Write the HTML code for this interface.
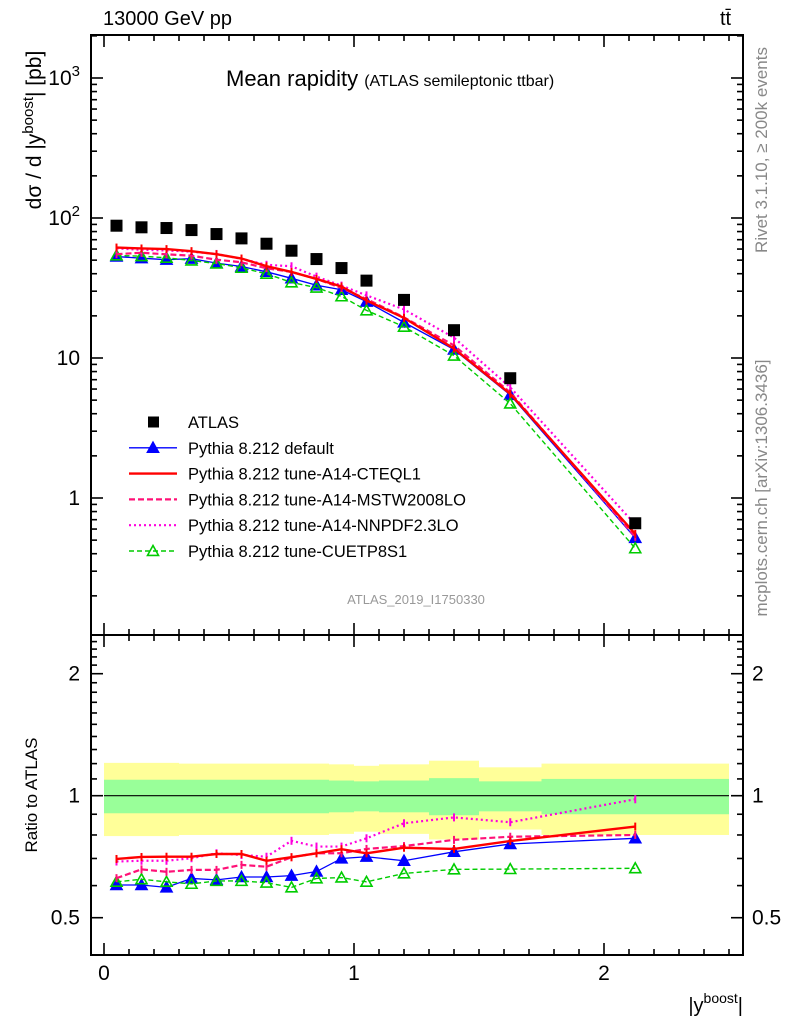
<!DOCTYPE html>
<html><head><meta charset="utf-8"><style>
body{margin:0;background:#fff}
svg{display:block;font-family:"Liberation Sans",sans-serif}
</style></head><body>
<svg id="c" width="786" height="1024" viewBox="0 0 786 1024">
<g id="bands"></g>
<g id="ratioLines"></g>
<g id="mainLines"></g>
<g id="axes"></g>
<text x="103" y="25" font-size="20">13000 GeV pp</text>
<text x="720" y="25" font-size="20">tt̄</text>
<text x="226" y="86" font-size="22">Mean rapidity <tspan font-size="16">(ATLAS semileptonic ttbar)</tspan></text>
<text x="416" y="604" font-size="13" fill="#999" text-anchor="middle">ATLAS_2019_I1750330</text>
<text transform="translate(767,150) rotate(-90)" font-size="17" fill="#888" text-anchor="middle">Rivet 3.1.10, ≥ 200k events</text>
<text transform="translate(767,488) rotate(-90)" font-size="17" fill="#888" text-anchor="middle">mcplots.cern.ch [arXiv:1306.3436]</text>
<text transform="translate(41,130) rotate(-90)" font-size="21" text-anchor="middle">dσ / d |y<tspan font-size="15" dy="-8">boost</tspan><tspan dy="8">| [pb]</tspan></text>
<text transform="translate(37,795) rotate(-90)" font-size="17" text-anchor="middle">Ratio to ATLAS</text>
<text x="743" y="1012" font-size="20" text-anchor="end">|y<tspan font-size="14" dy="-9">boost</tspan><tspan dy="9">|</tspan></text>
<g id="legend"></g>
</svg>
<script>
const binEdges=[0,0.1,0.2,0.3,0.4,0.5,0.6,0.7,0.8,0.9,1.0,1.1,1.3,1.5,1.75,2.5];
const xCenters=[0.05,0.15,0.25,0.35,0.45,0.55,0.65,0.75,0.85,0.95,1.05,1.2,1.4,1.625,2.125];
const atlasVals=[88.1,85.8,84.8,82.0,76.8,71.5,65.5,58.4,50.9,43.9,35.7,26.0,15.8,7.17,0.66];
const statErr=[0.095,0.095,0.095,0.095,0.095,0.095,0.095,0.095,0.095,0.09,0.085,0.09,0.105,0.085,0.1];
const totErr=[0.205,0.205,0.205,0.2,0.2,0.2,0.2,0.2,0.2,0.195,0.185,0.195,0.22,0.175,0.2];
const rDefault=[0.602,0.602,0.594,0.625,0.620,0.630,0.630,0.635,0.650,0.700,0.707,0.691,0.727,0.760,0.785];
const rCTEQ=[0.698,0.706,0.707,0.707,0.718,0.718,0.691,0.705,0.721,0.738,0.721,0.744,0.739,0.773,0.839];
const rMSTW=[0.626,0.658,0.649,0.656,0.656,0.675,0.668,0.705,0.721,0.721,0.739,0.751,0.778,0.792,0.800];
const rNNPDF=[0.688,0.691,0.691,0.701,0.721,0.714,0.707,0.774,0.749,0.749,0.785,0.855,0.884,0.860,0.980];
const rCUETP=[0.613,0.622,0.613,0.606,0.616,0.616,0.610,0.594,0.625,0.628,0.613,0.643,0.658,0.659,0.662];

const NS='http://www.w3.org/2000/svg';
const L=91,R=743,T=35,M=635,B=955;
const X=v=>104+250*v;
const Y=v=>218-140*(Math.log10(v)-2);
const YR=v=>795.7-122*Math.log2(v);
function el(tag,attrs,parent){const e=document.createElementNS(NS,tag);for(const k in attrs)e.setAttribute(k,attrs[k]);parent.appendChild(e);return e;}

const bands=document.getElementById('bands');
for(let i=0;i<xCenters.length;i++){
  const x0=X(binEdges[i]),x1=X(binEdges[i+1]);
  const y=el('rect',{x:x0,y:YR(1+totErr[i]),width:x1-x0,height:YR(1-totErr[i])-YR(1+totErr[i]),fill:'#ffff99'},bands);
  
  
  const g=el('rect',{x:x0,y:YR(1+statErr[i]),width:x1-x0,height:YR(1-statErr[i])-YR(1+statErr[i]),fill:'#99ff99'},bands);
  
  
}
const one=el('line',{x1:X(binEdges[0]),x2:X(binEdges[binEdges.length-1]),y1:YR(1),y2:YR(1),stroke:'#000','stroke-width':1.2},bands);



function tri(parent,x,y,color,filled,s){
  const p=el('polygon',{points:`${x},${y-s} ${x-s},${y+s*0.8} ${x+s},${y+s*0.8}`,fill:filled?color:'#fff','fill-opacity':filled?1:0,stroke:color,'stroke-width':1.6},parent);
  return p;
}
const series=[
 {name:'default',r:rDefault,color:'#0000ff',w:1.3,dash:'',marker:'filled'},
 {name:'cuetp8s1',r:rCUETP,color:'#00cc00',w:1.4,dash:'5,3',marker:'open'},
 {name:'mstw2008lo',r:rMSTW,color:'#ff1177',w:2.2,dash:'6,3',marker:'bar'},
 {name:'nnpdf23lo',r:rNNPDF,color:'#ff00dd',w:2.2,dash:'2,3',marker:'bar'},
 {name:'cteql1',r:rCTEQ,color:'#ff0000',w:2.4,dash:'',marker:'bar'}
];
const mainG=document.getElementById('mainLines');
const ratioG=document.getElementById('ratioLines');
series.forEach(s=>{
  const ptsM=xCenters.map((x,i)=>X(x)+','+Y(atlasVals[i]*s.r[i])).join(' ');
  const ptsR=xCenters.map((x,i)=>X(x)+','+YR(s.r[i])).join(' ');
  const pm=el('polyline',{points:ptsM,fill:'none',stroke:s.color,'stroke-width':s.w,'stroke-dasharray':s.dash},mainG);
  
  
  const pr=el('polyline',{points:ptsR,fill:'none',stroke:s.color,'stroke-width':s.w,'stroke-dasharray':s.dash},ratioG);
  
  
  xCenters.forEach((x,i)=>{
    const px=X(x),ym=Y(atlasVals[i]*s.r[i]),yr=YR(s.r[i]);
    [[mainG,ym],[ratioG,yr]].forEach(([g,yy])=>{
      let m;
      if(s.marker==='bar'){m=el('line',{x1:px,x2:px,y1:yy-4,y2:yy+4,stroke:s.color,'stroke-width':2},g);}
      else m=tri(g,px,yy,s.color,s.marker==='filled',5.5);
      
      
    });
  });
});
xCenters.forEach((x,i)=>{
  const q=el('rect',{x:X(x)-6,y:Y(atlasVals[i])-6,width:12,height:12,fill:'#000'},mainG);
  
  
});

const ax=document.getElementById('axes');
el('rect',{x:L,y:T,width:R-L,height:M-T,fill:'none',stroke:'#000','stroke-width':2},ax);
el('rect',{x:L,y:M,width:R-L,height:B-M,fill:'none',stroke:'#000','stroke-width':2},ax);
function tk(x1,y1,x2,y2){el('line',{x1,y1,x2,y2,stroke:'#000','stroke-width':1.6},ax);}
for(let k=0;k<=25;k++){
  const v=k/10,x=X(v);if(x>R)break;
  const len=(k%10===0)?12:6;
  [T,M].forEach(t=>tk(x,t,x,t+len));
  [M,B].forEach(b=>tk(x,b,x,b-len));
}
['0','1','2'].forEach((s,i)=>{const t=el('text',{x:X(i),y:980,'font-size':21,'text-anchor':'middle'},ax);t.textContent=s;
 
 });
for(let d=-1;d<=3;d++){
  for(let m=1;m<10;m++){
    const v=m*Math.pow(10,d),y=Y(v);if(y<T||y>M)continue;
    const len=m===1?12:6;tk(L,y,L+len,y);tk(R,y,R-len,y);
  }
}
[['1',1],['10',10]].forEach(([s,v])=>{const t=el('text',{x:80,y:Y(v)+7,'font-size':21,'text-anchor':'end'},ax);t.textContent=s;
 
 });
[2,3].forEach(p=>{const t=el('text',{x:80,y:Y(Math.pow(10,p))+7,'font-size':21,'text-anchor':'end'},ax);
 t.innerHTML='10<tspan font-size="15" dy="-9">'+p+'</tspan>';
 
 });
for(let k=5;k<=24;k++){
  const v=k/10,y=YR(v);if(y<M||y>B)continue;
  const len=(k===5||k===10||k===20)?12:6;tk(L,y,L+len,y);tk(R,y,R-len,y);
}
[['0.5',0.5],['1',1],['2',2]].forEach(([s,v])=>{
  const t=el('text',{x:80,y:YR(v)+7,'font-size':21,'text-anchor':'end'},ax);t.textContent=s;
  
  
  const t2=el('text',{x:752,y:YR(v)+7,'font-size':21},ax);t2.textContent=s;
  
  
});

const lg=document.getElementById('legend');
const entries=[
 ['ATLAS',null],
 ['Pythia 8.212 default',series[0]],
 ['Pythia 8.212 tune-A14-CTEQL1',series[4]],
 ['Pythia 8.212 tune-A14-MSTW2008LO',series[2]],
 ['Pythia 8.212 tune-A14-NNPDF2.3LO',series[3]],
 ['Pythia 8.212 tune-CUETP8S1',series[1]]
];
entries.forEach(([label,s],i)=>{
  const y=422+25.8*i;
  if(!s){el('rect',{x:148,y:y-5.5,width:11,height:11,fill:'#000'},lg);}
  else{
    el('line',{x1:129,x2:177,y1:y,y2:y,stroke:s.color,'stroke-width':s.w,'stroke-dasharray':s.dash},lg);
    if(s.marker!=='bar')tri(lg,153,y,s.color,s.marker==='filled',5.5);
  }
  const t=el('text',{x:188,y:y+6,'font-size':16.5},lg);t.textContent=label;
  
  
});
</script>
</body></html>
